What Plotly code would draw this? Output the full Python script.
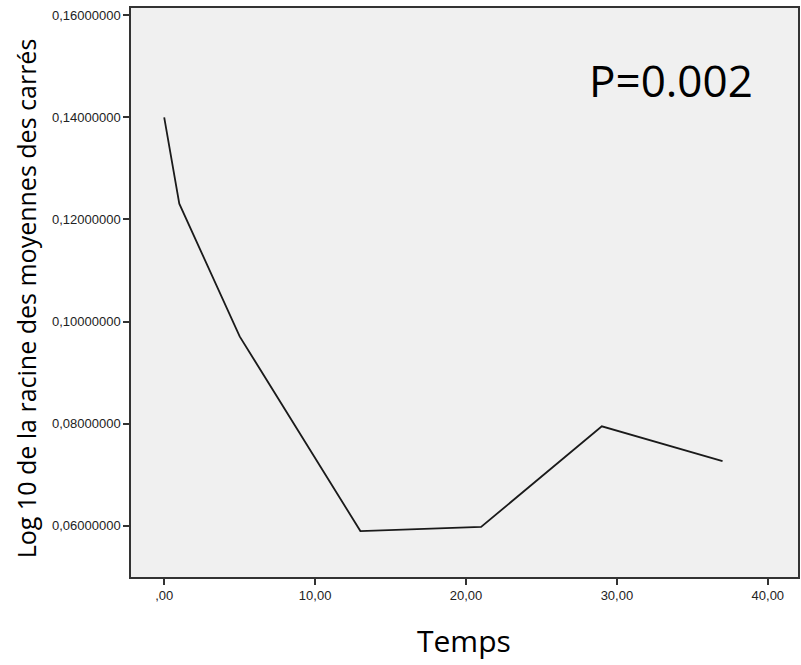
import plotly.graph_objects as go

temps = [0, 1, 5, 13, 21, 29, 37]
log_rms = [0.1400, 0.1231, 0.0971, 0.0590, 0.0598, 0.0795, 0.0727]

y_ticks = [0.06, 0.08, 0.10, 0.12, 0.14, 0.16]
y_ticklabels = ["0,06000000", "0,08000000", "0,10000000", "0,12000000", "0,14000000", "0,16000000"]
x_ticks = [0, 10, 20, 30, 40]
x_ticklabels = [",00", "10,00", "20,00", "30,00", "40,00"]

fig = go.Figure()
fig.add_trace(go.Scatter(x=temps, y=log_rms, mode="lines",
                         line=dict(color="#1a1a1a", width=1.8), showlegend=False))

axis_common = dict(showline=True, linecolor="#333333", linewidth=1.5, mirror=True,
                   ticks="outside", ticklen=6, tickwidth=1.5, tickcolor="#333333",
                   showgrid=False, zeroline=False,
                   tickfont=dict(family="Liberation Sans, Arial", size=13, color="#222222"))

fig.update_layout(
    width=801, height=665,
    margin=dict(l=131, r=1, t=8, b=88),
    paper_bgcolor="white", plot_bgcolor="#f0f0f0",
    xaxis=dict(range=[-2.2, 42.0], tickvals=x_ticks, ticktext=x_ticklabels, **axis_common),
    yaxis=dict(range=[0.05, 0.1614], tickvals=y_ticks, ticktext=y_ticklabels, **axis_common),
    annotations=[
        dict(text="Log 10 de la racine des moyennes des carrés", textangle=-90,
             xref="paper", yref="paper", x=-(131 - 26) / 669, y=(577 - 298) / 569,
             xanchor="center", yanchor="middle", showarrow=False,
             font=dict(family="Open Sans", size=25, color="black")),
        dict(text="Temps", xref="paper", yref="paper", x=(465 - 131) / 669, y=-(640 - 577) / 569,
             xanchor="center", yanchor="middle", showarrow=False,
             font=dict(family="Open Sans", size=30, color="black")),
        dict(text="P=0.002", xref="x", yref="y", x=33.6, y=0.1473,
             xanchor="center", yanchor="middle", showarrow=False,
             font=dict(family="Open Sans", size=44, color="black")),
    ],
)

fig.write_html("out.html")
